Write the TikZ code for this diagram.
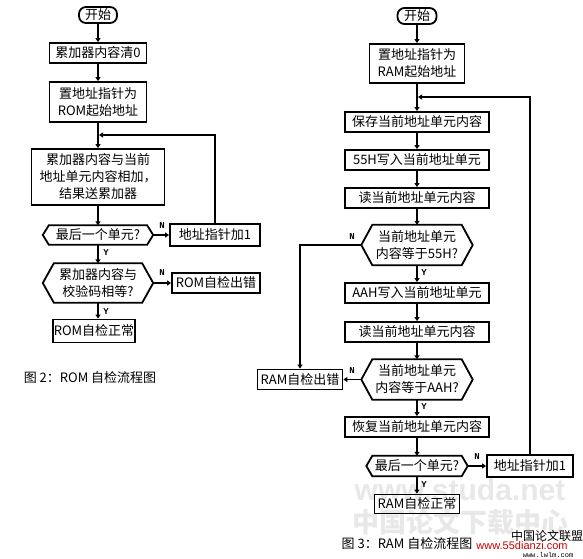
\documentclass[tikz,border=0pt]{standalone}
\usepackage{fontspec}
\setmainfont{Liberation Serif}
\newfontfamily\cjk{Noto Sans CJK SC}
\newfontfamily\monofnt{Liberation Mono}
\newfontfamily\sansfnt{Liberation Sans}
\usetikzlibrary{arrows.meta}
\newcommand\drawhexa[2]{\draw[line width=1.8pt, line join=miter] (#1.west) -- ([xshift=#2pt]#1.north west) -- ([xshift=-#2pt]#1.north east) -- (#1.east) -- ([xshift=-#2pt]#1.south east) -- ([xshift=#2pt]#1.south west) -- cycle;}
\begin{document}
\begin{tikzpicture}[x=1pt,y=-1pt,
  every node/.style={font=\cjk\fontsize{13}{17}\selectfont, inner sep=1pt, align=center},
  bx/.style={draw, line width=1.8pt, rectangle},
  term/.style={draw, line width=1.8pt, rounded corners=7pt},
  hx/.style={rectangle},
  arr/.style={line width=1.8pt, -{Triangle[length=4pt,width=5pt]}},
  lb/.style={font=\fontsize{9}{9}\selectfont\bfseries\monofnt, inner sep=0pt},
  captext/.style={font=\cjk\fontsize{13}{15}\selectfont}]
\useasboundingbox (0,0) rectangle (583,558);
% faint watermarks
\node[font=\sansfnt\bfseries\fontsize{30}{30}\selectfont, text=gray!18] (wm1) at (460,490) {www.studa.net};
\node[font=\cjk\bfseries\fontsize{27}{27}\selectfont, text=gray!18] (wm2) at (460,522) {中国论文下载中心};
% left chart
\node[term, minimum width=38pt, minimum height=16pt] (s1) at (98,15) {开始};
\node[bx, minimum width=97pt, minimum height=20pt] (b1) at (98,53) {累加器内容清0};
\node[bx, minimum width=97pt, minimum height=40pt] (b2) at (98,102) {置地址指针为\\ROM起始地址};
\coordinate (j1) at (99,135);
\node[bx, minimum width=133pt, minimum height=56pt] (b3) at (98,177) {累加器内容与当前\\地址单元内容相加，\\结果送累加器};
\node[hx, minimum width=110pt, minimum height=19pt] (d1) at (98,235) {最后一个单元?};
\drawhexa{d1}{6}
\node[bx, minimum width=90pt, minimum height=22pt] (r1) at (215,235) {地址指针加1};
\node[hx, minimum width=110pt, minimum height=39pt] (d2) at (98,283) {累加器内容与\\校验码相等?};
\drawhexa{d2}{11}
\node[bx, minimum width=88pt, minimum height=20pt] (e1) at (216,283) {ROM自检出错};
\node[bx, minimum width=78pt, minimum height=23pt] (k1) at (94,331) {ROM自检正常};
\node[captext] (cap1) at (90,378) {图 2：ROM 自检流程图};
\draw[arr] (s1) -- (b1);
\draw[arr] (b1) -- (b2);
\draw[arr] (b2) -- (b3);
\draw[arr] (r1.north) |- (j1);
\draw[arr] (b3) -- (d1);
\draw[arr] (d1) -- (r1);
\draw[arr] (d1) -- (d2);
\draw[arr] (d2) -- (e1);
\draw[arr] (d2.south) -- (d2.south |- k1.north);
\node[lb] (n1) at (162,226) {N};
\node[lb] (y1) at (106,253) {Y};
\node[lb] (n2) at (162,273) {N};
\node[lb] (y2) at (106,312) {Y};
% right chart
\node[term, minimum width=39pt, minimum height=16pt] (s2) at (417,16) {开始};
\node[bx, minimum width=95pt, minimum height=39pt] (c1) at (417,63.5) {置地址指针为\\RAM起始地址};
\coordinate (j2) at (418,97);
\node[bx, minimum width=144pt, minimum height=20pt] (c2) at (417,122) {保存当前地址单元内容};
\node[bx, minimum width=144pt, minimum height=20pt] (c3) at (417,160) {55H写入当前地址单元};
\node[bx, minimum width=144pt, minimum height=20pt] (c4) at (417,198) {读当前地址单元内容};
\node[hx, minimum width=111pt, minimum height=40pt] (dd1) at (417,245) {当前地址单元\\内容等于55H?};
\drawhexa{dd1}{11}
\node[bx, minimum width=144pt, minimum height=20pt] (c5) at (417,293) {AAH写入当前地址单元};
\node[bx, minimum width=144pt, minimum height=20pt] (c6) at (417,332) {读当前地址单元内容};
\node[hx, minimum width=111pt, minimum height=40pt] (dd2) at (417,379.5) {当前地址单元\\内容等于AAH?};
\drawhexa{dd2}{11}
\node[bx, minimum width=85pt, minimum height=20pt] (er) at (300,379.5) {RAM自检出错};
\node[bx, minimum width=144pt, minimum height=20pt] (c7) at (417,427) {恢复当前地址单元内容};
\node[hx, minimum width=101pt, minimum height=20pt] (dd3) at (417,466) {最后一个单元?};
\drawhexa{dd3}{6}
\node[bx, minimum width=86pt, minimum height=22pt] (r2) at (530,466) {地址指针加1};
\node[bx, minimum width=85pt, minimum height=19pt] (k2) at (417,504) {RAM自检正常};
\node[captext] (cap2) at (407,544) {图 3：RAM 自检流程图};
\draw[arr] (s2) -- (c1);
\draw[arr] (c1) -- (c2);
\draw[arr] (r2.north) |- (j2);
\draw[arr] (c2) -- (c3);
\draw[arr] (c3) -- (c4);
\draw[arr] (c4) -- (dd1);
\draw[arr] (dd1.west) -| (er.north);
\draw[arr] (dd1) -- (c5);
\draw[arr] (c5) -- (c6);
\draw[arr] (c6) -- (dd2);
\draw[arr] (dd2) -- (er);
\draw[arr] (dd2) -- (c7);
\draw[arr] (c7) -- (dd3);
\draw[arr] (dd3) -- (r2);
\draw[arr] (dd3) -- (k2);
\node[lb] (n3) at (352,237) {N};
\node[lb] (y3) at (424,273) {Y};
\node[lb] (n4) at (352,371) {N};
\node[lb] (y4) at (424,407) {Y};
\node[lb] (n5) at (477,457) {N};
\node[lb] (y5) at (424,485) {Y};
% small corner marks
\node[font=\cjk\fontsize{12}{12}\selectfont] (m1) at (547,536) {中国论文联盟};
\node[font=\sansfnt\fontsize{11}{11}\selectfont, text=red!80!black] (m2) at (522,546) {www.55dianzi.com};
\node[font=\monofnt\fontsize{7}{7}\selectfont, inner sep=0pt] (m3) at (548,555) {www.lwlm.com};
\end{tikzpicture}
\end{document}
